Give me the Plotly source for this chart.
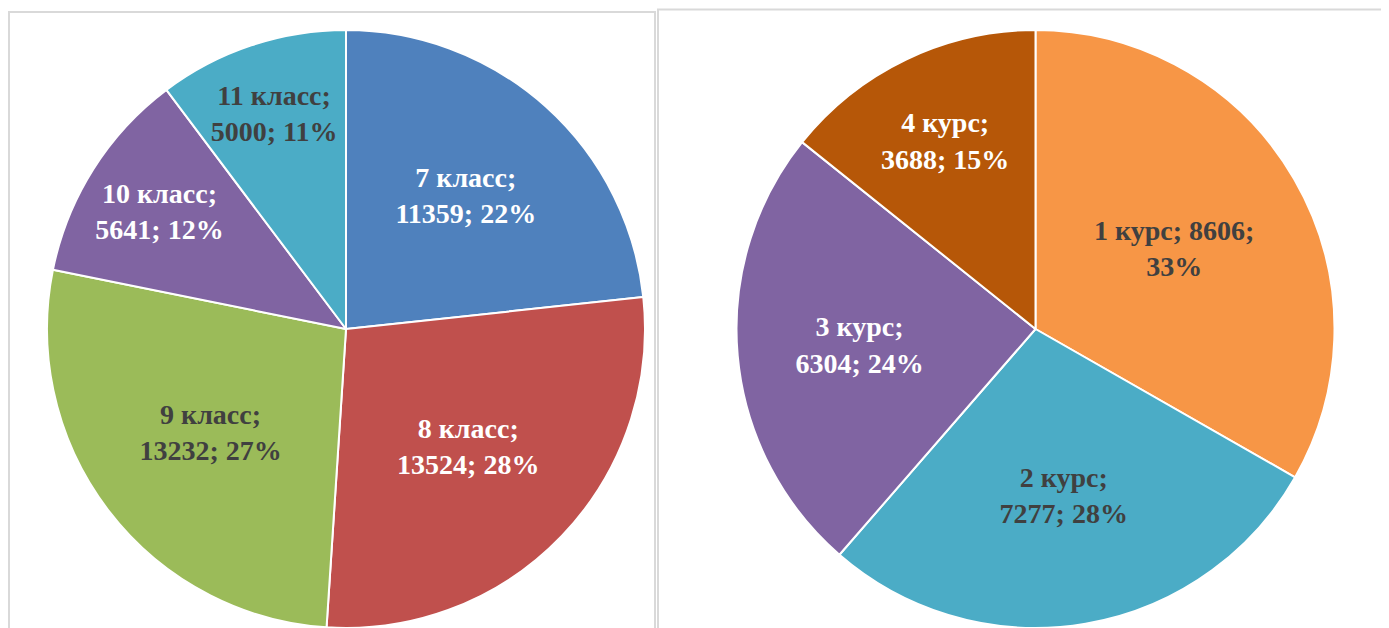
import plotly.graph_objects as go

# Left chart: school classes
class_labels = ["7 класс", "8 класс", "9 класс", "10 класс", "11 класс"]
class_values = [11359, 13524, 13232, 5641, 5000]
class_pct = ["22%", "28%", "27%", "12%", "11%"]
class_colors = ["#4F81BD", "#C0504D", "#9BBB59", "#8064A2", "#4BACC6"]
class_text_colors = ["#FFFFFF", "#FFFFFF", "#404040", "#FFFFFF", "#404040"]

# Right chart: university courses
course_labels = ["1 курс", "2 курс", "3 курс", "4 курс"]
course_values = [8606, 7277, 6304, 3688]
course_pct = ["33%", "28%", "24%", "15%"]
course_colors = ["#F79646", "#4BACC6", "#8064A2", "#B65708"]
course_text_colors = ["#404040", "#404040", "#FFFFFF", "#FFFFFF"]

# page body adds an 8px margin; figure is sized so it ends at the window edge
OFF = 8
W, H = 1389 - OFF, 628 - OFF

class_text = [f"{l};<br>{v}; {p}" for l, v, p in zip(class_labels, class_values, class_pct)]
course_text = []
for i, (l, v, p) in enumerate(zip(course_labels, course_values, course_pct)):
    if i == 0:
        course_text.append(f"{l}; {v};<br>{p}")
    else:
        course_text.append(f"{l};<br>{v}; {p}")

font_family = "Liberation Serif, Times New Roman, serif"

fig = go.Figure()

top_px = 30 - OFF
ytop = (H - top_px) / H
r = (H - top_px) / 2

lc = 346 - OFF
rc = 1035.5 - OFF

fig.add_trace(go.Pie(
    labels=class_labels, values=class_values, text=class_text,
    texttemplate="%{text}", textinfo="text", textposition="inside",
    insidetextorientation="horizontal",
    sort=False, direction="clockwise", rotation=0,
    marker=dict(colors=class_colors, line=dict(color="#FFFFFF", width=2)),
    insidetextfont=dict(family=font_family, size=28, color=class_text_colors, weight="bold"),
    domain=dict(x=[(lc - r) / W, (lc + r) / W], y=[0, ytop]),
    showlegend=False, hoverinfo="label+value+percent",
))

fig.add_trace(go.Pie(
    labels=course_labels, values=course_values, text=course_text,
    texttemplate="%{text}", textinfo="text", textposition="inside",
    insidetextorientation="horizontal",
    sort=False, direction="clockwise", rotation=0,
    marker=dict(colors=course_colors, line=dict(color="#FFFFFF", width=2)),
    insidetextfont=dict(family=font_family, size=28, color=course_text_colors, weight="bold"),
    domain=dict(x=[(rc - r) / W, (rc + r) / W], y=[0, ytop]),
    showlegend=False, hoverinfo="label+value+percent",
))

# panel borders
border = dict(color="#D9D9D9", width=2)
fig.add_shape(type="rect", xref="paper", yref="paper",
              x0=1 / W, x1=(655 - OFF) / W, y0=-0.05, y1=(H - (12 - OFF)) / H,
              line=border, fillcolor="rgba(0,0,0,0)")
fig.add_shape(type="rect", xref="paper", yref="paper",
              x0=(658 - OFF) / W, x1=1.05, y0=-0.05, y1=(H - 1.5) / H,
              line=border, fillcolor="rgba(0,0,0,0)")

fig.update_layout(
    width=W, height=H,
    margin=dict(l=0, r=0, t=0, b=0),
    paper_bgcolor="#FFFFFF", plot_bgcolor="#FFFFFF",
)

fig.write_html("out.html")
